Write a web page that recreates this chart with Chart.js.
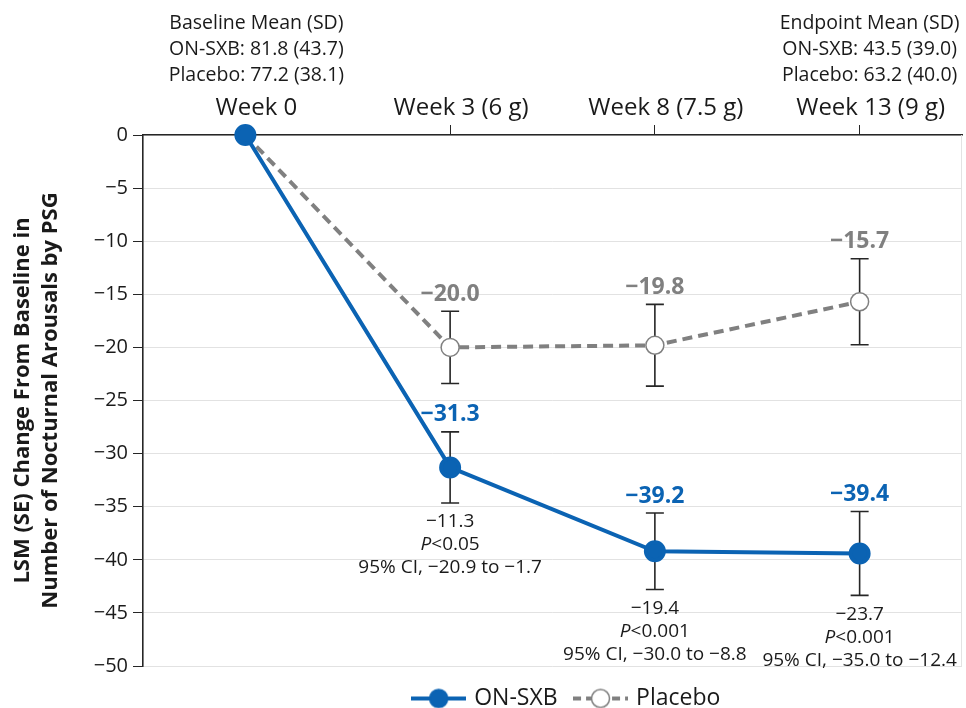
<!DOCTYPE html>
<html>
<head>
<meta charset="utf-8">
<script src="https://cdn.jsdelivr.net/npm/chart.js@4"></script>
<style>
html,body{margin:0;padding:0;background:#fff;}
#wrap{width:966px;height:708px;position:relative;}
</style>
</head>
<body>
<div id="wrap"><canvas id="c"></canvas></div>
<script>
const FONT = '"Open Sans", "Noto Sans", sans-serif';
const weeks = ['Week 0', 'Week 3 (6 g)', 'Week 8 (7.5 g)', 'Week 13 (9 g)'];
const onSxb = [0, -31.3, -39.2, -39.4];
const onSxbSE = [null, 3.35, 3.6, 3.95];
const placebo = [0, -20.0, -19.8, -15.7];
const placeboSE = [null, 3.4, 3.85, 4.05];
const diffLabels = [null, '\u221211.3', '\u221219.4', '\u221223.7'];
const pLabels = [null, '<0.05', '<0.001', '<0.001'];
const ciLabels = [null, '95% CI, \u221220.9 to \u22121.7', '95% CI, \u221230.0 to \u22128.8', '95% CI, \u221235.0 to \u221212.4'];
const baselineText = ['Baseline Mean (SD)', 'ON-SXB: 81.8 (43.7)', 'Placebo: 77.2 (38.1)'];
const endpointText = ['Endpoint Mean (SD)', 'ON-SXB: 43.5 (39.0)', 'Placebo: 63.2 (40.0)'];
const yTicks = [0, -5, -10, -15, -20, -25, -30, -35, -40, -45, -50];

const BLUE = '#0b63b3';
const GRAY = '#808080';
const TXT = '#1a1a1a';

const fmt = v => (v < 0 ? '\u2212' : '') + Math.abs(v).toFixed(1);

function legendIcon(color, dashed, filled) {
  const c = document.createElement('canvas');
  c.width = 55; c.height = 22;
  const g = c.getContext('2d');
  g.strokeStyle = color; g.lineWidth = 4;
  if (dashed) g.setLineDash([8, 5]);
  g.beginPath(); g.moveTo(0, 11); g.lineTo(55, 11); g.stroke();
  g.setLineDash([]);
  g.beginPath(); g.arc(27.5, 11, 9, 0, Math.PI * 2);
  g.fillStyle = filled ? color : '#fff'; g.fill();
  g.lineWidth = 1.5; g.strokeStyle = color; g.stroke();
  return c;
}

const annot = {
  id: 'annot',
  afterLayout(chart) {
    const lg = chart.legend;
    if (lg) { lg.left += 15; lg.right += 15; }
  },
  beforeDatasetsDraw(chart) {
    const ctx = chart.ctx, xs = chart.scales.x, ys = chart.scales.y;
    ctx.save();
    ctx.strokeStyle = '#262626'; ctx.lineWidth = 1.6;
    const bars = (vals, se) => {
      vals.forEach((v, i) => {
        if (se[i] == null) return;
        const x = xs.getPixelForValue(i);
        const t = ys.getPixelForValue(v + se[i]);
        const b = ys.getPixelForValue(v - se[i]);
        ctx.beginPath();
        ctx.moveTo(x, t); ctx.lineTo(x, b);
        ctx.moveTo(x - 9, t); ctx.lineTo(x + 9, t);
        ctx.moveTo(x - 9, b); ctx.lineTo(x + 9, b);
        ctx.stroke();
      });
    };
    bars(placebo, placeboSE);
    bars(onSxb, onSxbSE);
    ctx.strokeStyle = '#e3e3e3'; ctx.lineWidth = 1;
    ctx.beginPath();
    ctx.moveTo(chart.chartArea.right - 0.5, chart.chartArea.top);
    ctx.lineTo(chart.chartArea.right - 0.5, chart.chartArea.bottom);
    ctx.stroke();
    ctx.restore();
  },
  afterDatasetsDraw(chart) {
    const ctx = chart.ctx, xs = chart.scales.x, ys = chart.scales.y;
    ctx.save();
    ctx.textAlign = 'center'; ctx.textBaseline = 'middle';
    ctx.font = 'bold 23px ' + FONT;
    placebo.forEach((v, i) => {
      if (placeboSE[i] == null) return;
      ctx.fillStyle = GRAY;
      ctx.fillText(fmt(v), xs.getPixelForValue(i), ys.getPixelForValue(v + placeboSE[i]) - 17);
    });
    onSxb.forEach((v, i) => {
      if (onSxbSE[i] == null) return;
      ctx.fillStyle = BLUE;
      ctx.fillText(fmt(v), xs.getPixelForValue(i), ys.getPixelForValue(v + onSxbSE[i]) - 17);
    });
    ctx.fillStyle = TXT;
    const fs = 19;
    onSxb.forEach((v, i) => {
      if (onSxbSE[i] == null) return;
      const x = xs.getPixelForValue(i);
      const y0 = ys.getPixelForValue(v - onSxbSE[i]) + 19;
      ctx.font = fs + 'px ' + FONT;
      ctx.textAlign = 'center';
      ctx.fillText(diffLabels[i], x, y0);
      ctx.fillText(ciLabels[i], x, y0 + 46);
      const ip = 'italic ' + fs + 'px ' + FONT, np = fs + 'px ' + FONT;
      ctx.font = ip; const wP = ctx.measureText('P').width;
      ctx.font = np; const wR = ctx.measureText(pLabels[i]).width;
      const sx = x - (wP + wR) / 2;
      ctx.textAlign = 'left';
      ctx.font = ip; ctx.fillText('P', sx, y0 + 23);
      ctx.font = np; ctx.fillText(pLabels[i], sx + wP, y0 + 23);
      ctx.textAlign = 'center';
    });
    ctx.font = '19.5px ' + FONT;
    ctx.fillStyle = TXT;
    const top = chart.chartArea.top;
    baselineText.forEach((s, k) => ctx.fillText(s, xs.getPixelForValue(0) + 11, top - 112 + k * 26));
    endpointText.forEach((s, k) => ctx.fillText(s, xs.getPixelForValue(3) + 10, top - 112 + k * 26));
    ctx.restore();
  }
};

new Chart(document.getElementById('c'), {
  type: 'line',
  data: {
    labels: weeks,
    datasets: [
      {
        label: 'ON-SXB', data: onSxb,
        borderColor: BLUE, backgroundColor: BLUE, borderWidth: 4,
        pointRadius: 9, pointHoverRadius: 9, pointBackgroundColor: BLUE, pointBorderColor: BLUE,
        tension: 0, clip: false, order: 1
      },
      {
        label: 'Placebo', data: placebo,
        borderColor: GRAY, backgroundColor: '#fff', borderWidth: 4, borderDash: [10, 6],
        pointRadius: 9, pointHoverRadius: 9, pointBackgroundColor: '#fff', pointBorderColor: GRAY, pointBorderWidth: 1.5,
        tension: 0, clip: false, order: 2
      }
    ]
  },
  options: {
    responsive: true, maintainAspectRatio: false, animation: false,
    layout: { autoPadding: false, padding: { top: 0, right: 4, bottom: -12, left: 0 } },
    plugins: {
      tooltip: { enabled: false },
      legend: {
        position: 'bottom', fullSize: false,
        title: { display: true, text: '', padding: 0, font: { size: 2, lineHeight: 1 } },
        labels: {
          usePointStyle: true, pointStyleWidth: 48, boxHeight: 23,
          font: { family: FONT, size: 23 }, color: TXT, padding: 19,
          generateLabels(chart) {
            return [
              { text: 'ON-SXB', pointStyle: legendIcon(BLUE, false, true), fillStyle: BLUE, strokeStyle: BLUE, lineWidth: 0, datasetIndex: 0, fontColor: TXT },
              { text: 'Placebo', pointStyle: legendIcon(GRAY, true, false), fillStyle: '#fff', strokeStyle: GRAY, lineWidth: 0, datasetIndex: 1, fontColor: TXT }
            ];
          }
        }
      }
    },
    scales: {
      x: {
        position: 'top', offset: true,
        grid: { offset: false, drawOnChartArea: false, drawTicks: true, tickLength: 10, tickColor: '#262626', color: '#262626' },
        border: { color: '#262626', width: 1.6 },
        ticks: { font: { family: FONT, size: 24 }, color: TXT, padding: 2, labelOffset: 11, maxRotation: 0 },
        afterFit(s) { s.height = 135; s.paddingLeft = 0; s.paddingRight = 0; }
      },
      y: {
        min: -50, max: 0,
        afterBuildTicks(s) { s.ticks = yTicks.map(v => ({ value: v })); },
        grid: { color: '#e2e2e2', lineWidth: 1, tickLength: 10, tickColor: '#262626' },
        border: { color: '#262626', width: 1.6 },
        ticks: {
          font: { family: FONT, size: 20 }, color: TXT, padding: 5,
          callback: v => (v < 0 ? '\u2212' + Math.abs(v) : String(v))
        },
        title: {
          display: true,
          text: ['LSM (SE) Change From Baseline in', 'Number of Nocturnal Arousals by PSG'],
          font: { family: FONT, size: 22, weight: 'bold', lineHeight: 1.27 }, color: TXT, padding: { top: 9, bottom: 0 }
        },
        afterFit(s) { s.width = 143; s.paddingTop = 0; s.paddingBottom = 0; }
      }
    }
  },
  plugins: [annot]
});
</script>
</body>
</html>
